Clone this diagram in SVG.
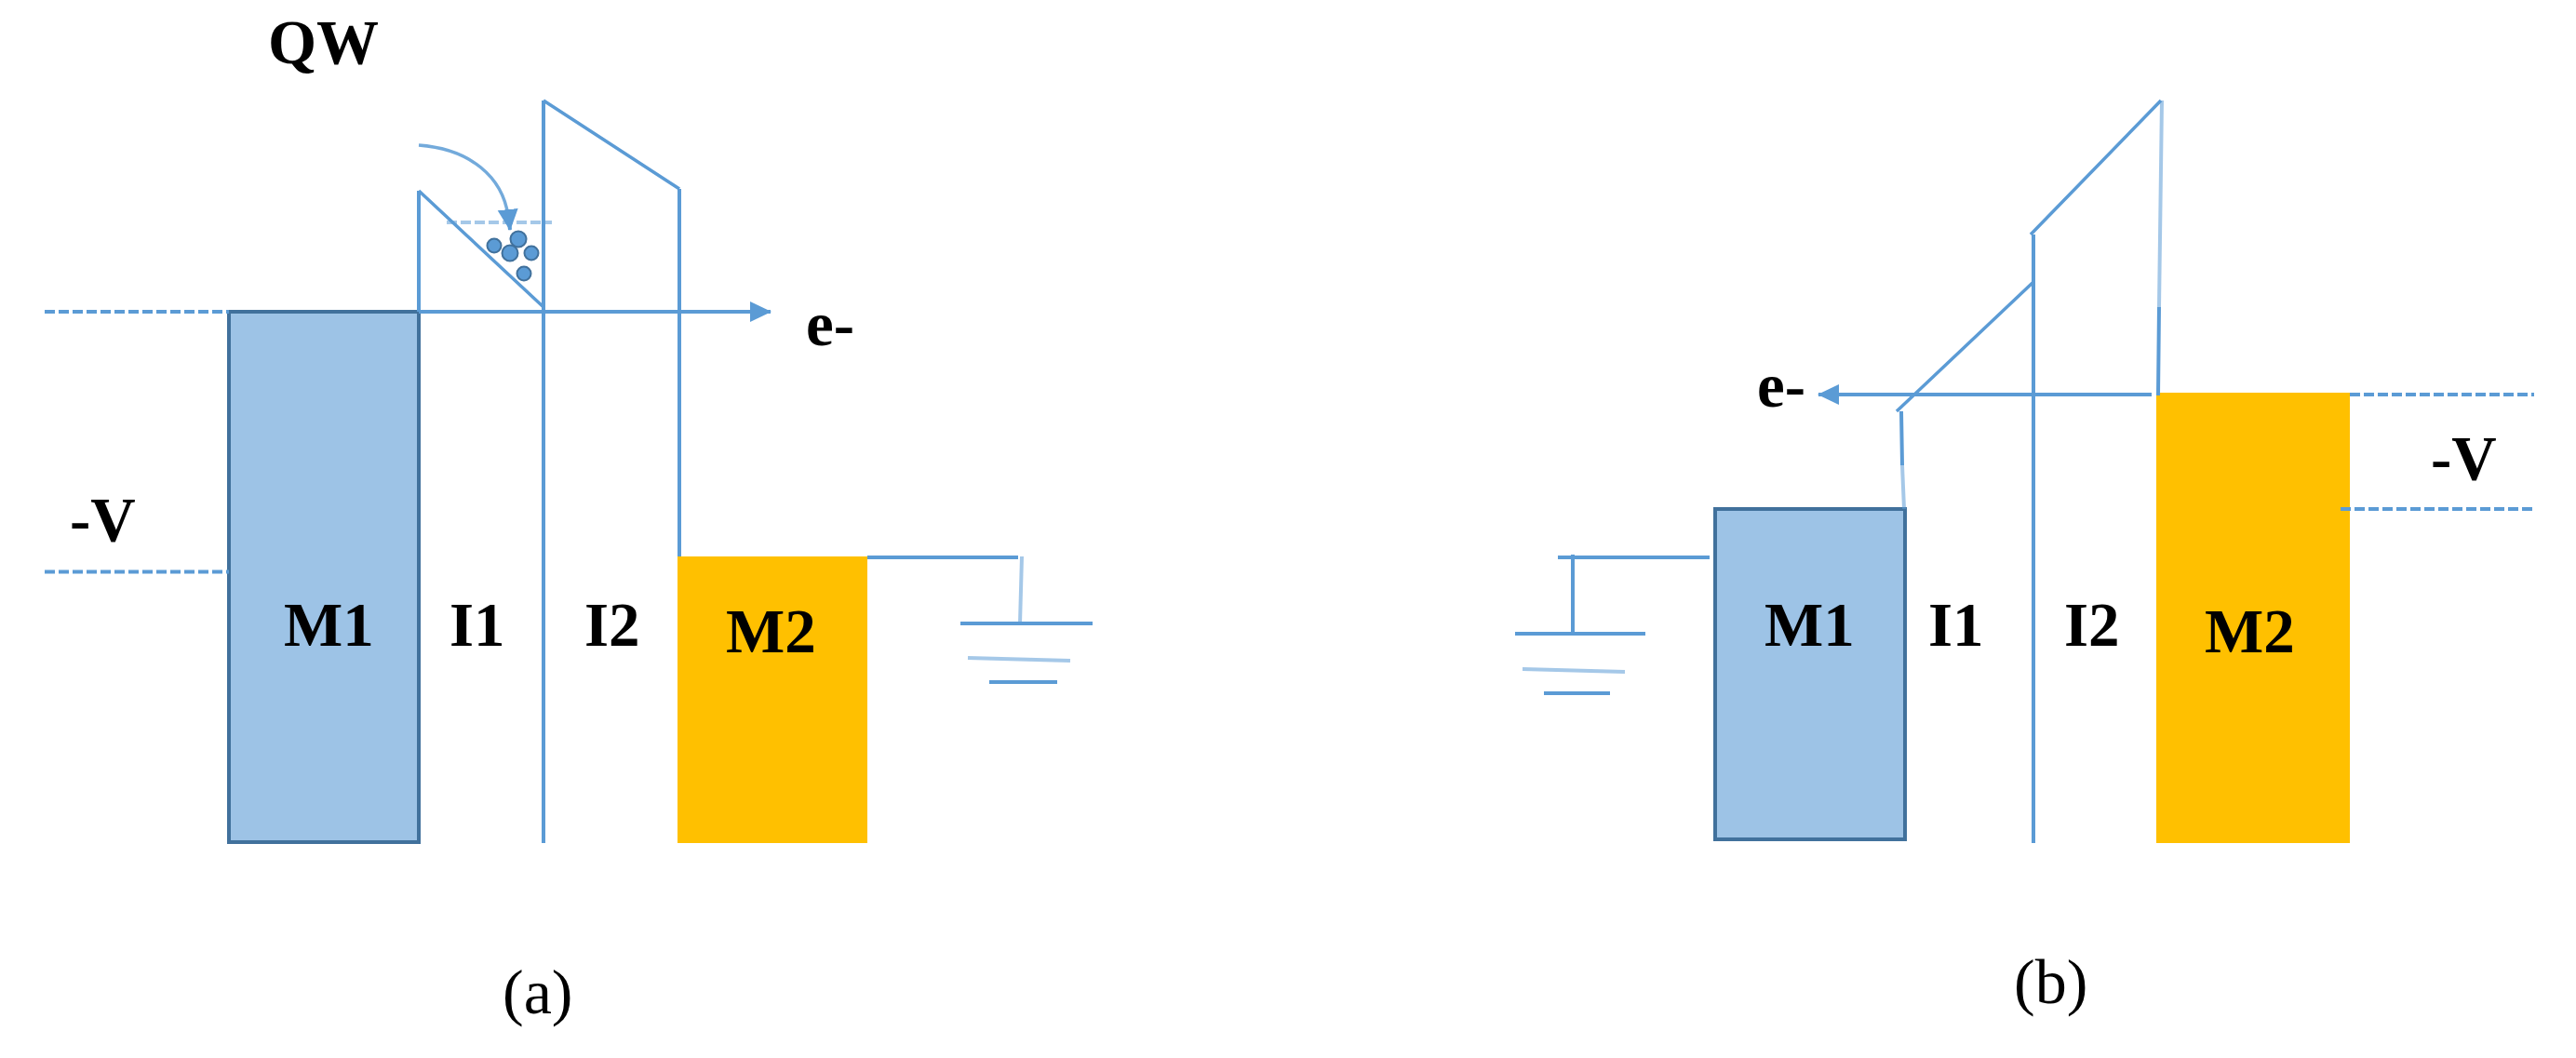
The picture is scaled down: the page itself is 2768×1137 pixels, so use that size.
<svg xmlns="http://www.w3.org/2000/svg" width="2768" height="1137" viewBox="0 0 2768 1137">
<style>
text{font-family:"Liberation Serif","Times New Roman",serif;font-size:67px;font-weight:bold;fill:#000}
text.cap{font-weight:normal;font-size:68px}
.ln{fill:none;stroke:#5b9bd5;stroke-width:4}
.dg{fill:none;stroke:#5b9bd5;stroke-width:3.500}
.lt{fill:none;stroke:#5b9bd5;stroke-width:4;opacity:.55}
.cv{fill:none;stroke:#5b9bd5;stroke-width:3.500;opacity:.85}
.ds{fill:none;stroke:#5b9bd5;stroke-width:4;stroke-dasharray:11 4}
.m1{fill:#9dc3e6;stroke:#41719c;stroke-width:4}
.m2{fill:#ffc000}
.dot{fill:#5b9bd5;stroke:#41719c;stroke-width:2}
</style>
<defs>
<marker id="arr" markerUnits="userSpaceOnUse" markerWidth="24" markerHeight="24" refX="22" refY="12" orient="auto"><path d="M0 1L23 12L0 23Z" fill="#5b9bd5"/></marker>
</defs>
<rect width="2768" height="1137" fill="#fff"/>
<g id="a-m1"><rect class="m1" x="246" y="335" width="204" height="570"/><text x="305" y="694">M1</text></g>
<g id="a-m2"><rect class="m2" x="728" y="598" width="204" height="308"/><text x="780" y="701">M2</text></g>
<g id="b-m1"><rect class="m1" x="1843" y="547" width="204" height="355"/><text x="1896" y="694">M1</text></g>
<g id="b-m2"><rect class="m2" x="2317" y="422" width="208" height="484"/><text x="2369" y="701">M2</text></g>
<g id="connectors">
<path class="ln" d="M450 335V205M584 906V108M730 203V598"/>
<path class="dg" d="M450 205L584 330M584 108L730 203"/>
<path class="ln" d="M450 335H828" marker-end="url(#arr)"/>
<path class="ds" d="M48 335H246M48 614.500H246"/>
<path class="cv" d="M450 156C505 160 540 190 546 232"/>
<path class="ln" d="M546 228L548 247" marker-end="url(#arr)"/>
<path class="lt" d="M480 239H593" stroke-dasharray="11 4"/>
<path class="ln" d="M932 599H1094M1032 670H1174M1063 733H1136"/>
<path class="lt" d="M1098 598L1096 670M1040 707L1150 710"/>
<path class="ln" d="M1674 599H1837M1690 596V681M1628 681H1768M1659 745H1730"/>
<path class="lt" d="M1636 719L1746 722"/>
<path class="ln" d="M2185 906V252M2043 442L2044 500M2320 330L2319 425"/>
<path class="dg" d="M2182 252L2322 108M2185 303L2038 442"/>
<path class="lt" d="M2044 500L2046 547M2323 108L2320 330"/>
<path class="ln" d="M2312 424H1954" marker-end="url(#arr)"/>
<path class="ds" d="M2525 424H2723M2515 547H2723"/>
</g>
<g id="electrons">
<circle class="dot" cx="531" cy="264" r="7.500"/><circle class="dot" cx="557" cy="257" r="8.500"/><circle class="dot" cx="548" cy="272" r="8.500"/><circle class="dot" cx="571" cy="272" r="7.500"/><circle class="dot" cx="563" cy="294" r="7.500"/>
</g>
<g id="labels">
<text x="288" y="68">QW</text>
<text x="866" y="371">e-</text>
<text x="75" y="581">-V</text>
<text x="483" y="694">I1</text>
<text x="628" y="694">I2</text>
<text class="cap" x="540" y="1089">(a)</text>
<text x="1888" y="437">e-</text>
<text x="2612" y="515">-V</text>
<text x="2072" y="694">I1</text>
<text x="2218" y="694">I2</text>
<text class="cap" x="2164" y="1078">(b)</text>
</g>
</svg>
